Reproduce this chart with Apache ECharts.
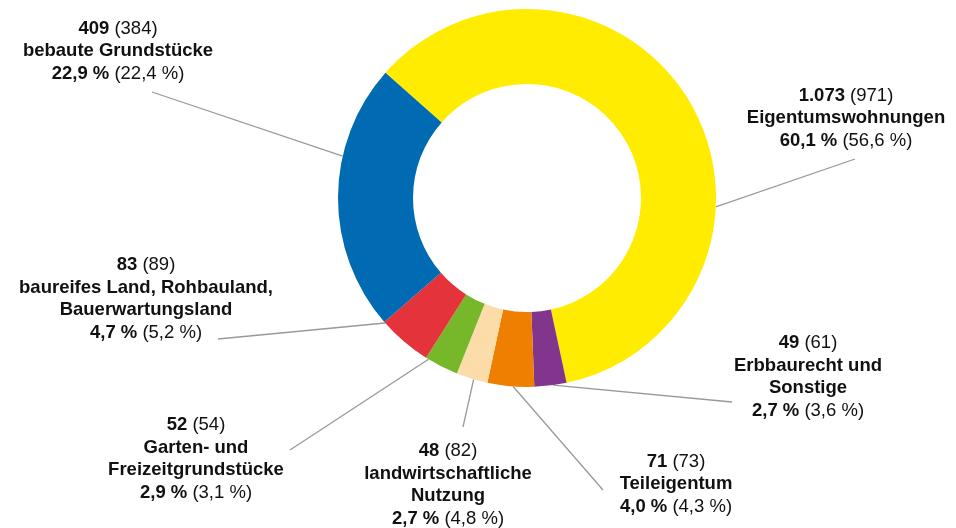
<!DOCTYPE html>
<html>
<head>
<meta charset="utf-8">
<script src="https://cdn.jsdelivr.net/npm/echarts@6/dist/echarts.min.js"></script>
<style>
  html, body { margin: 0; padding: 0; background: #fff; }
  #chart { width: 956px; height: 528px; }
</style>
</head>
<body>
<div id="chart"></div>
<script>
// Kategorien im Uhrzeigersinn, beginnend oben links
const names = [
  'Eigentumswohnungen',
  'Erbbaurecht und\nSonstige',
  'Teileigentum',
  'landwirtschaftliche\nNutzung',
  'Garten- und\nFreizeitgrundstücke',
  'baureifes Land, Rohbauland,\nBauerwartungsland',
  'bebaute Grundstücke'
]
const values = [1073, 49, 71, 48, 52, 83, 409]
const valueLabels = ['1.073', '49', '71', '48', '52', '83', '409']
const prevValues = ['971', '61', '73', '82', '54', '89', '384']
const shares = ['60,1', '2,7', '4,0', '2,7', '2,9', '4,7', '22,9']
const prevShares = ['56,6', '3,6', '4,3', '4,8', '3,1', '5,2', '22,4']
const colors = ['#FFEC00', '#82358C', '#EE7F00', '#FCDCA8', '#76B82A', '#E4333A', '#006AB3']

// Layout: Mittelpunkt des Textblocks
const labelPos = [
  [846, 118],
  [808, 377],
  [676, 484],
  [448, 485],
  [196, 459],
  [146, 299],
  [118, 51]
]
// Layout: Ende der Führungslinie am Text, Winkel am Ring (Grad)
const lineAnchors = [
  [855, 159, -2.7],
  [732, 402, -82],
  [603, 490, -94.2],
  [463, 427, -106.4],
  [290, 450, -121.4],
  [218, 339, -138.6],
  [152, 92, 167.2]
]

const CENTER = [527, 198]
const R_OUT = 189

const chart = echarts.init(document.getElementById('chart'))

const option = {
  backgroundColor: '#fff',
  animation: false,
  series: [
    {
      type: 'pie',
      center: CENTER,
      radius: [114, R_OUT],
      startAngle: 138.5,
      clockwise: true,
      avoidLabelOverlap: false,
      itemStyle: { borderWidth: 0 },
      data: names.map((n, i) => ({
        name: n,
        value: values[i],
        itemStyle: { color: colors[i] }
      })),
      label: {
        show: true,
        position: 'outside',
        fontFamily: 'Liberation Sans, Arial, sans-serif',
        fontSize: 18.5,
        lineHeight: 22.5,
        color: '#111',
        align: 'center',
        formatter: (p) => {
          const i = p.dataIndex
          const nameLines = names[i].split('\n').map((s) => '{b|' + s + '}').join('\n')
          return '{b|' + valueLabels[i] + '} (' + prevValues[i] + ')\n' +
            nameLines + '\n{b|' + shares[i] + ' %} (' + prevShares[i] + ' %)'
        },
        rich: {
          b: {
            fontFamily: 'Liberation Sans, Arial, sans-serif',
            fontWeight: 'bold',
            fontSize: 18.5,
            lineHeight: 22.5,
            color: '#111'
          }
        }
      },
      labelLine: {
        show: true,
        length: 10,
        length2: 0,
        lineStyle: { color: '#999', width: 1.3 }
      },
      labelLayout: (params) => {
        const i = params.dataIndex
        const pos = labelPos[i]
        const a = lineAnchors[i]
        const rad = (a[2] * Math.PI) / 180
        const onRing = [CENTER[0] + R_OUT * Math.cos(rad), CENTER[1] - R_OUT * Math.sin(rad)]
        return {
          x: pos[0],
          y: pos[1],
          align: 'center',
          verticalAlign: 'middle',
          labelLinePoints: [onRing, [a[0], a[1]], [a[0], a[1]]]
        }
      }
    }
  ]
}

chart.setOption(option)
</script>
</body>
</html>
